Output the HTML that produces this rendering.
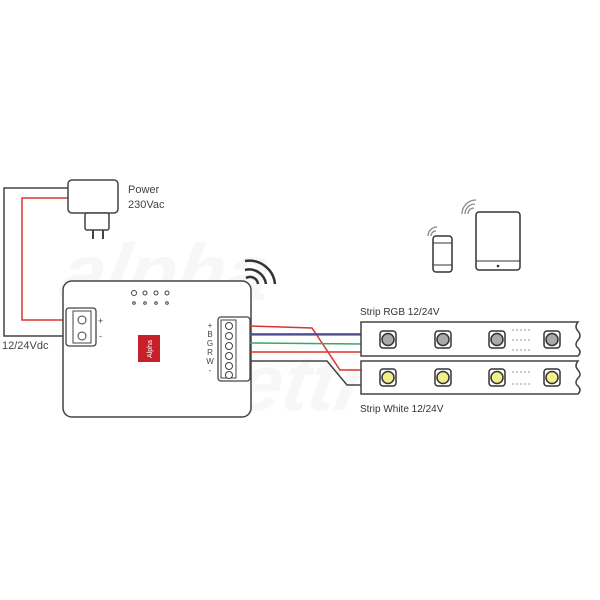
<!DOCTYPE html>
<html><head><style>body{margin:0;background:#fff}svg{display:block}</style></head><body>
<svg width="600" height="600" viewBox="0 0 600 600" font-family="Liberation Sans, sans-serif">
<g fill="#f7f7f7" font-size="80" font-style="italic" font-weight="bold"><text x="110" y="300" transform="skewX(-10)">alpha</text><text x="240" y="410" transform="skewX(-10)">elettr</text></g>
<polyline points="68,188 4,188 4,336 63,336" fill="none" stroke="#444" stroke-width="1.5"/>
<polyline points="68,198 22,198 22,320 72,320" fill="none" stroke="#d33" stroke-width="1.5"/>
<rect x="68" y="180" width="50" height="33" rx="4" fill="#fff" stroke="#444" stroke-width="1.5"/>
<rect x="85" y="213" width="24" height="17" rx="2" fill="#fff" stroke="#444" stroke-width="1.5"/>
<line x1="93" y1="230" x2="93" y2="239" stroke="#444" stroke-width="2"/><line x1="103" y1="230" x2="103" y2="239" stroke="#444" stroke-width="2"/>
<text x="128" y="193" font-size="11" fill="#444">Power</text><text x="128" y="208" font-size="11" fill="#444">230Vac</text>
<text x="2" y="349" font-size="11" fill="#444">12/24Vdc</text>
<rect x="63" y="281" width="188" height="136" rx="9" fill="#fff" stroke="#444" stroke-width="1.5"/>
<rect x="66" y="308" width="30" height="38" rx="3" fill="#fff" stroke="#444" stroke-width="1.3"/>
<rect x="73" y="311" width="18" height="32" fill="#fff" stroke="#444"/>
<circle cx="82" cy="320" r="4" fill="#fff" stroke="#444"/><circle cx="82" cy="336" r="4" fill="#fff" stroke="#444"/>
<text x="98" y="324" font-size="9" fill="#444">+</text><text x="99" y="339" font-size="9" fill="#444">-</text>
<rect x="218" y="317" width="32" height="64" rx="3" fill="#fff" stroke="#444" stroke-width="1.3"/>
<rect x="221" y="320" width="15" height="58" fill="#fff" stroke="#444"/>
<g fill="#fff" stroke="#444"><circle cx="229" cy="326" r="3.5"/><circle cx="229" cy="336" r="3.5"/><circle cx="229" cy="346" r="3.5"/><circle cx="229" cy="356" r="3.5"/><circle cx="229" cy="366" r="3.5"/><circle cx="229" cy="375" r="3.5"/></g>
<g font-size="8" fill="#444" text-anchor="middle"><text x="210" y="328">+</text><text x="210" y="337">B</text><text x="210" y="346">G</text><text x="210" y="355">R</text><text x="210" y="364">W</text><text x="210" y="373">-</text></g>
<rect x="138" y="335" width="22" height="27" fill="#c8202a"/>
<text x="149" y="352" font-size="7" fill="#fff" text-anchor="middle" transform="rotate(-90 149 349)">Alpha</text>
<g fill="none" stroke="#444"><circle cx="134" cy="293" r="2.5"/><circle cx="145" cy="293" r="2"/><circle cx="156" cy="293" r="2"/><circle cx="167" cy="293" r="2"/>
<circle cx="134" cy="303" r="1.3"/><circle cx="145" cy="303" r="1.3"/><circle cx="156" cy="303" r="1.3"/><circle cx="167" cy="303" r="1.3"/></g>
<g fill="none" stroke="#333" stroke-width="2.5"><path d="M246,278 a8,8 0 0 1 12,6"/><path d="M245,270 a17,17 0 0 1 21,14"/><path d="M245,261 a26,26 0 0 1 30,23"/></g>
<g fill="none" stroke-width="1.5">
<polyline points="250,326 312,328 340,370 362,370" stroke="#d33"/>
<polyline points="250,334 362,334" stroke="#445"/>
<polyline points="250,335 362,335" stroke="#55b" stroke-width="1.2"/>
<polyline points="250,343 362,344" stroke="#3a6"/>
<polyline points="250,352 362,352" stroke="#d33"/>
<polyline points="250,361 327,361 347,385 362,385" stroke="#444"/>
</g>
<text x="360" y="315" font-size="10" fill="#333">Strip RGB 12/24V</text>
<text x="360" y="412" font-size="10" fill="#333">Strip White 12/24V</text>
<path d="M361,322 H578 q-4,5 0,9 q4,5 0,9 q-4,5 0,8 q4,4 0,8 H361Z" fill="#fff" stroke="#444" stroke-width="1.5"/>
<path d="M361,361 H578 q-4,5 0,9 q4,5 0,8 q-4,5 0,8 q4,4 0,8 H361Z" fill="#fff" stroke="#444" stroke-width="1.5"/>
<g stroke="#333" stroke-width="1.5">
<g fill="#aaa"><rect x="380" y="331" width="16" height="17" rx="3" fill="#fff"/><circle cx="388" cy="339.5" r="6"/>
<rect x="435" y="331" width="16" height="17" rx="3" fill="#fff"/><circle cx="443" cy="339.5" r="6"/>
<rect x="489" y="331" width="16" height="17" rx="3" fill="#fff"/><circle cx="497" cy="339.5" r="6"/>
<rect x="544" y="331" width="16" height="17" rx="3" fill="#fff"/><circle cx="552" cy="339.5" r="6"/></g>
<g fill="#f1ef8a"><rect x="380" y="369" width="16" height="17" rx="3" fill="#fff"/><circle cx="388" cy="377.5" r="6"/>
<rect x="435" y="369" width="16" height="17" rx="3" fill="#fff"/><circle cx="443" cy="377.5" r="6"/>
<rect x="489" y="369" width="16" height="17" rx="3" fill="#fff"/><circle cx="497" cy="377.5" r="6"/>
<rect x="544" y="369" width="16" height="17" rx="3" fill="#fff"/><circle cx="552" cy="377.5" r="6"/></g>
</g>
<g stroke="#999" stroke-dasharray="2,2"><line x1="512" y1="330" x2="530" y2="330"/><line x1="512" y1="340" x2="530" y2="340"/><line x1="512" y1="350" x2="530" y2="350"/><line x1="512" y1="372" x2="530" y2="372"/><line x1="512" y1="384" x2="530" y2="384"/></g>
<rect x="433" y="236" width="19" height="36" rx="3" fill="#fff" stroke="#333" stroke-width="1.5"/>
<line x1="433" y1="243" x2="452" y2="243" stroke="#333"/><line x1="433" y1="265" x2="452" y2="265" stroke="#333"/>
<rect x="476" y="212" width="44" height="58" rx="3" fill="#fff" stroke="#333" stroke-width="1.5"/>
<line x1="476" y1="261" x2="520" y2="261" stroke="#333"/><circle cx="498" cy="266" r="1.3" fill="#333"/>
<g fill="none" stroke="#888" stroke-width="1.3"><path d="M431,236 a5,5 0 0 1 5,-5"/><path d="M428,236 a9,9 0 0 1 9,-9"/>
<path d="M468,214 a6,6 0 0 1 6,-6"/><path d="M465,214 a10,10 0 0 1 10,-10"/><path d="M462,214 a14,14 0 0 1 14,-14"/></g>
</svg>
</body></html>
